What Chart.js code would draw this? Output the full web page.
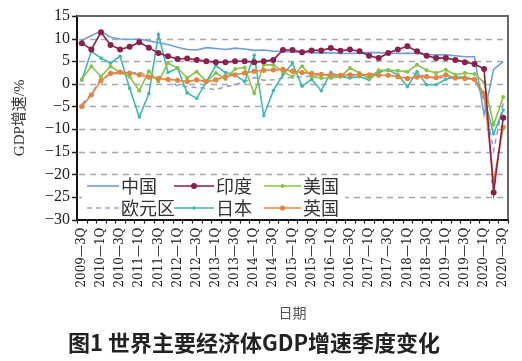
<!DOCTYPE html>
<html>
<head>
<meta charset="utf-8">
<script src="https://cdn.jsdelivr.net/npm/chart.js@4"></script>
<style>
  body { margin: 0; background: #fff; }
  canvas { display: block; }
</style>
</head>
<body>
<canvas id="chart_gdp" width="522" height="361"></canvas>
<script>
var quarters = ['2009—3Q','2009—4Q','2010—1Q','2010—2Q','2010—3Q','2010—4Q','2011—1Q','2011—2Q','2011—3Q','2011—4Q',
  '2012—1Q','2012—2Q','2012—3Q','2012—4Q','2013—1Q','2013—2Q','2013—3Q','2013—4Q','2014—1Q','2014—2Q',
  '2014—3Q','2014—4Q','2015—1Q','2015—2Q','2015—3Q','2015—4Q','2016—1Q','2016—2Q','2016—3Q','2016—4Q',
  '2017—1Q','2017—2Q','2017—3Q','2017—4Q','2018—1Q','2018—2Q','2018—3Q','2018—4Q','2019—1Q','2019—2Q',
  '2019—3Q','2019—4Q','2020—1Q','2020—2Q','2020—3Q'];

var china = [9.6,10.7,11.6,10.3,9.9,9.8,9.9,9.5,9.1,8.7,8.1,7.6,7.5,8.0,7.8,7.6,7.9,7.7,7.4,7.5,7.2,7.2,7.0,7.0,6.9,6.8,6.9,6.7,6.7,6.8,6.9,6.9,6.8,6.7,6.8,6.7,6.5,6.4,6.4,6.2,6.0,6.0,-6.8,3.2,4.9];
var india = [9.0,7.6,11.4,8.6,7.6,8.2,9.2,8.0,6.8,6.1,5.5,5.6,5.3,5.0,4.8,4.8,5.0,5.0,4.8,5.0,5.3,7.5,7.5,7.0,7.4,7.4,7.9,7.3,7.6,7.2,6.2,5.7,6.8,7.6,8.3,7.2,6.2,5.7,5.7,5.3,4.8,4.4,3.3,-24.0,-7.5];
var usa = [1.0,3.9,1.6,3.9,2.5,1.6,-1.5,2.8,0.5,4.6,3.5,1.3,2.7,0.5,2.4,1.1,3.3,3.6,-2.1,4.2,4.2,2.7,1.6,3.9,1.6,1.3,1.3,1.6,3.5,2.4,1.2,3.0,3.0,2.9,2.7,4.2,3.0,2.4,3.1,2.0,2.4,2.2,0.3,-9.0,-2.9];
var euro = [-4.5,-2.2,0.9,2.2,2.3,2.3,2.6,1.8,1.5,0.7,-0.4,-0.6,-0.8,-1.0,-1.3,-0.6,-0.2,0.5,1.4,0.8,0.9,1.3,1.4,1.6,1.7,2.1,1.7,1.7,1.7,2.0,2.1,2.5,2.8,3.0,2.6,2.2,1.6,1.2,1.5,1.2,1.3,1.0,-3.2,-14.7,-4.3];
var japan = [0.8,7.2,5.7,4.6,6.1,-1.0,-7.3,-2.2,10.9,2.5,3.5,-2.0,-3.2,0.5,4.0,2.5,2.0,0.5,6.3,-7.0,-1.5,2.0,4.5,-0.5,1.0,-1.5,2.5,1.6,1.3,1.6,0.9,2.7,3.1,2.0,-0.6,2.7,-0.2,-0.2,1.0,1.5,1.5,1.0,-3.0,-11.0,-5.8];
var uk = [-5.0,-2.4,0.7,2.3,2.6,2.4,2.0,1.5,1.2,1.0,0.8,0.5,0.9,0.5,0.9,1.6,2.0,2.4,2.8,3.0,3.1,3.2,2.8,2.5,2.3,2.1,2.0,1.9,2.0,2.0,2.0,1.9,1.9,1.6,1.2,1.5,1.6,1.4,2.0,1.3,1.2,1.0,-2.1,-21.5,-9.6];

var serif = '"Liberation Serif", "Noto Sans CJK SC", serif';

// dashed gridlines and tick marks, taken from the scales
var gridPlugin = {
  id: 'gridPlugin',
  beforeDatasetsDraw: function(chart) {
    var ctx = chart.ctx;
    var area = chart.chartArea;
    var ys = chart.scales.y, xs = chart.scales.x;
    ctx.save();
    ys.ticks.forEach(function(t) {
      var py = Math.round(ys.getPixelForValue(t.value)) + 0.5;
      if (t.value > ys.min && t.value < ys.max) {
        ctx.strokeStyle = '#a8a8a8';
        ctx.lineWidth = 1.3;
        ctx.setLineDash([6, 5]);
        ctx.beginPath();
        ctx.moveTo(area.left + 2, py);
        ctx.lineTo(area.right, py);
        ctx.stroke();
      }
      ctx.setLineDash([]);
      ctx.strokeStyle = '#222';
      ctx.lineWidth = 1.5;
      ctx.beginPath();
      ctx.moveTo(area.left - 5, py);
      ctx.lineTo(area.left, py);
      ctx.stroke();
    });
    var step = xs.getPixelForValue(1) - xs.getPixelForValue(0);
    ctx.strokeStyle = '#222';
    ctx.lineWidth = 1.2;
    for (var i = 0; i <= quarters.length; i++) {
      var px = Math.round(xs.getPixelForValue(i) - step / 2) + 0.5;
      ctx.beginPath();
      ctx.moveTo(px, area.bottom);
      ctx.lineTo(px, area.bottom + 4);
      ctx.stroke();
    }
    ctx.restore();
  }
};

// legend inside the plot, 3 columns x 2 rows, plus top/right frame
var boxPlugin = {
  id: 'boxPlugin',
  afterDatasetsDraw: function(chart) {
    var ctx = chart.ctx;
    var area = chart.chartArea;
    ctx.save();
    ctx.strokeStyle = '#666';
    ctx.lineWidth = 2;
    ctx.beginPath();
    ctx.moveTo(area.left, area.top);
    ctx.lineTo(area.right, area.top);
    ctx.lineTo(area.right, area.bottom);
    ctx.stroke();

    ctx.fillStyle = '#fff';
    ctx.fillRect(82, 177, 263, 39);

    var colX = [87, 174, 264];
    var lineLen = [32, 40, 37];
    var rowY = [186, 208];
    var ds = chart.data.datasets;
    ctx.font = '18px "Noto Sans CJK SC"';
    ctx.textBaseline = 'middle';
    for (var i = 0; i < ds.length; i++) {
      var c = i % 3, r = Math.floor(i / 3);
      var x = colX[c], y = rowY[r];
      ctx.strokeStyle = ds[i].borderColor;
      ctx.lineWidth = ds[i].borderWidth;
      ctx.setLineDash(ds[i].borderDash || []);
      ctx.beginPath();
      ctx.moveTo(x, y);
      ctx.lineTo(x + lineLen[c], y);
      ctx.stroke();
      ctx.setLineDash([]);
      if (ds[i].pointRadius > 0) {
        ctx.fillStyle = ds[i].borderColor;
        ctx.beginPath();
        ctx.arc(x + lineLen[c] / 2, y, ds[i].pointRadius, 0, Math.PI * 2);
        ctx.fill();
      }
      ctx.fillStyle = '#333';
      ctx.fillText(ds[i].label, x + lineLen[c] + 2, y);
    }
    ctx.restore();
  }
};

function makeSeries(label, data, color, radius, order, dash) {
  return {
    label: label,
    data: data,
    borderColor: color,
    backgroundColor: color,
    borderWidth: 1.6,
    borderDash: dash,
    pointRadius: radius,
    pointBackgroundColor: color,
    pointBorderWidth: 0,
    tension: 0,
    order: order
  };
}

new Chart(document.getElementById('chart_gdp'), {
  type: 'line',
  data: {
    labels: quarters,
    datasets: [
      makeSeries('中国', china, '#6f9fd8', 0, 5),
      makeSeries('印度', india, '#8c1f4b', 3, 0),
      makeSeries('美国', usa, '#86c443', 2, 2),
      makeSeries('欧元区', euro, '#9b9bd8', 0, 4, [5, 4]),
      makeSeries('日本', japan, '#3cbab3', 1.8, 3),
      makeSeries('英国', uk, '#e6843c', 2.6, 1)
    ]
  },
  options: {
    responsive: false,
    devicePixelRatio: 1,
    animation: false,
    layout: { padding: { left: 0, right: 14, top: 16, bottom: 0 } },
    plugins: {
      legend: { display: false },
      tooltip: { enabled: false },
      title: {
        display: true,
        position: 'bottom',
        text: '图1 世界主要经济体GDP增速季度变化',
        color: '#222',
        font: { family: '"Noto Sans CJK SC"', size: 22, weight: 'bold' },
        padding: { top: 2, bottom: 5 }
      }
    },
    scales: {
      x: {
        offset: true,
        afterFit: function(scale) { scale.height = 108; },
        grid: { display: true, drawOnChartArea: false, drawTicks: true, tickLength: 4, tickColor: 'rgba(0,0,0,0)', offset: true },
        border: { display: true, color: '#111', width: 2 },
        ticks: {
          autoSkip: false,
          minRotation: 90,
          maxRotation: 90,
          padding: 4,
          color: '#222',
          font: { family: '"DejaVu Serif", serif', size: 12 },
          callback: function(v, i) { return i % 2 === 0 ? quarters[i] : ''; }
        },
        title: {
          display: true,
          text: '日期',
          color: '#555',
          font: { family: serif, size: 14 },
          padding: { top: 0, bottom: 5 }
        }
      },
      y: {
        min: -30,
        max: 15,
        afterFit: function(scale) { scale.width = 77; },
        grid: { color: 'rgba(0,0,0,0)', tickColor: 'rgba(0,0,0,0)', tickLength: 5 },
        border: { display: true, color: '#111', width: 2 },
        ticks: {
          stepSize: 5,
          padding: 2,
          color: '#222',
          font: { family: serif, size: 16 },
          callback: function(v) { return String(v).replace('-', '−'); }
        },
        title: {
          display: true,
          text: 'GDP增速/%',
          color: '#333',
          font: { family: serif, size: 15 },
          padding: { top: 11, bottom: 0 }
        }
      }
    }
  },
  plugins: [gridPlugin, boxPlugin]
});
</script>
</body>
</html>
